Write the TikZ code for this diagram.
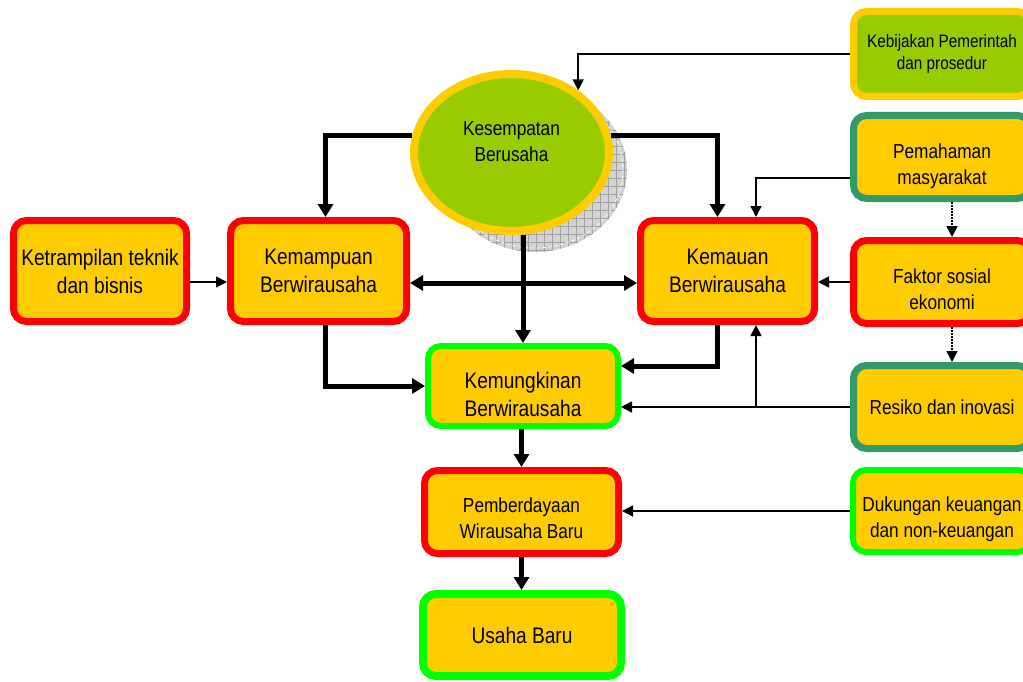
\documentclass[tikz,border=0pt]{standalone}
\usepackage{fontspec}
\setmainfont{Liberation Sans}[FakeStretch=0.85]
\usetikzlibrary{shapes.geometric,arrows.meta,patterns.meta}

\definecolor{boxfill}{HTML}{FFCC00}
\definecolor{leaf}{HTML}{99CC00}
\definecolor{sea}{HTML}{339966}
\definecolor{kred}{HTML}{FF0000}
\definecolor{kgreen}{HTML}{00FF00}

\newcommand{\padtop}[1]{\rule{0pt}{#1}}
\newcommand{\padbot}[1]{\rule[-#1]{0pt}{#1}}

\tikzset{
  box/.style={draw, rounded corners=13pt, fill=boxfill, line width=7pt,
    align=center, inner sep=2pt},
  big/.style={font=\fontsize{22.5}{28}\selectfont},
  mid/.style={font=\fontsize{20.3}{26}\selectfont},
  fat/.style={line width=5pt, >={Triangle[width=15pt,length=13pt]}},
  slim/.style={line width=1.6pt, >={Triangle[width=11pt,length=11pt]}},
}

\begin{document}
\begin{tikzpicture}[x=1pt,y=-1pt]
\useasboundingbox (0,0) rectangle (1023,682);
\clip (0,0) rectangle (1023,682);

% shadow of the ellipse
\fill[gray!35] (535,170) ellipse [x radius=92, y radius=82];
\fill[pattern={Hatch[angle=0,distance=8pt,line width=0.6pt]}, pattern color=gray!75]
  (535,170) ellipse [x radius=92, y radius=82];
\draw[white, dashed, line width=0.8pt] (535,170) ellipse [x radius=88, y radius=78];

\node [ellipse, draw=boxfill, fill=leaf, line width=8pt, minimum width=195pt,
  minimum height=157pt, inner sep=0pt, align=center, mid] (kes) at (511.5,152.5)
  {Kesempatan\\Berusaha\padbot{22pt}};

\node [box, draw=kred, big, minimum width=173pt, minimum height=101pt] (ket) at (100,271)
  {Ketrampilan teknik\\dan bisnis};
\node [box, draw=kred, big, minimum width=176pt, minimum height=101pt] (kmp) at (318.5,271)
  {Kemampuan\\Berwirausaha};
\node [box, draw=kred, big, minimum width=174pt, minimum height=101pt] (kmu) at (727.5,271)
  {Kemauan\\Berwirausaha};
\node [box, draw=kgreen, line width=6pt, big, minimum width=190pt, minimum height=80pt] (kmk) at (523,386)
  {\padtop{34pt}Kemungkinan\\Berwirausaha};
\node [box, draw=kred, mid, minimum width=194pt, minimum height=83pt] (pbd) at (521.5,512)
  {\padtop{27pt}Pemberdayaan\\Wirausaha Baru};
\node [box, draw=kgreen, line width=8pt, big, minimum width=198pt, minimum height=82pt] (usaha) at (522,635)
  {Usaha Baru};

\node [box, draw=boxfill, fill=leaf, font=\fontsize{18}{22}\selectfont,
  minimum width=177pt, minimum height=85pt] (keb) at (942,54)
  {Kebijakan Pemerintah\\dan prosedur};
\node [box, draw=sea, mid, minimum width=177pt, minimum height=83pt] (pem) at (942,157)
  {\padtop{33pt}Pemahaman\\masyarakat};
\node [box, draw=kred, mid, minimum width=177pt, minimum height=83pt] (fak) at (942,282)
  {\padtop{29pt}Faktor sosial\\ekonomi};
\node [box, draw=sea, mid, minimum width=177pt, minimum height=83pt] (res) at (942,407)
  {Resiko dan inovasi};
\node [box, draw=kgreen, line width=6pt, mid, minimum width=178pt, minimum height=82pt] (duk) at (942,511)
  {\padtop{31pt}Dukungan keuangan\\dan non-keuangan};

\coordinate (fork) at (756,407);

\draw[slim,->] (keb.west) -| (kes.43);
\draw[fat,->] (kes.170) -| ([xshift=7pt]kmp.north);
\draw[fat,->] (kes.10) -| ([xshift=-10pt]kmu.north);
\draw[slim,->] ([yshift=-21pt]pem.west) -| (fork |- kmu.north);
\draw[slim,->,dash pattern=on 1.5pt off 1.5pt] ([xshift=10pt]pem.south) -- ([xshift=10pt]fak.north);
\draw[slim,->,dash pattern=on 1.5pt off 1.5pt] ([xshift=10pt]fak.south) -- ([xshift=10pt]res.north);
\draw[slim,->] (fak.west) -- (fak.west -| kmu.east);
\draw[slim,->] ([yshift=-11pt]ket.east) -- ([yshift=-11pt]kmp.west);
\draw[fat,<->] ([yshift=-12pt]kmp.east) -- ([yshift=-12pt]kmu.west);
\draw[fat,->] (kmk.north |- kes.south) -- (kmk.north);
\draw[fat,->] ([xshift=7pt]kmp.south) |- (kmk.west);
\draw[fat,->] ([xshift=-10pt]kmu.south) |- ([yshift=20pt]kmk.east);
\draw[slim,->] (res.west) -- (res.west -| kmk.east);
\draw[slim,->] (fork) -- (fork |- kmu.south);
\draw[fat,->] (pbd.north |- kmk.south) -- (pbd.north);
\draw[slim,->] (duk.west) -- (duk.west -| pbd.east);
\draw[fat,->] (pbd.south) -- (pbd.south |- usaha.north);
\end{tikzpicture}
\end{document}
